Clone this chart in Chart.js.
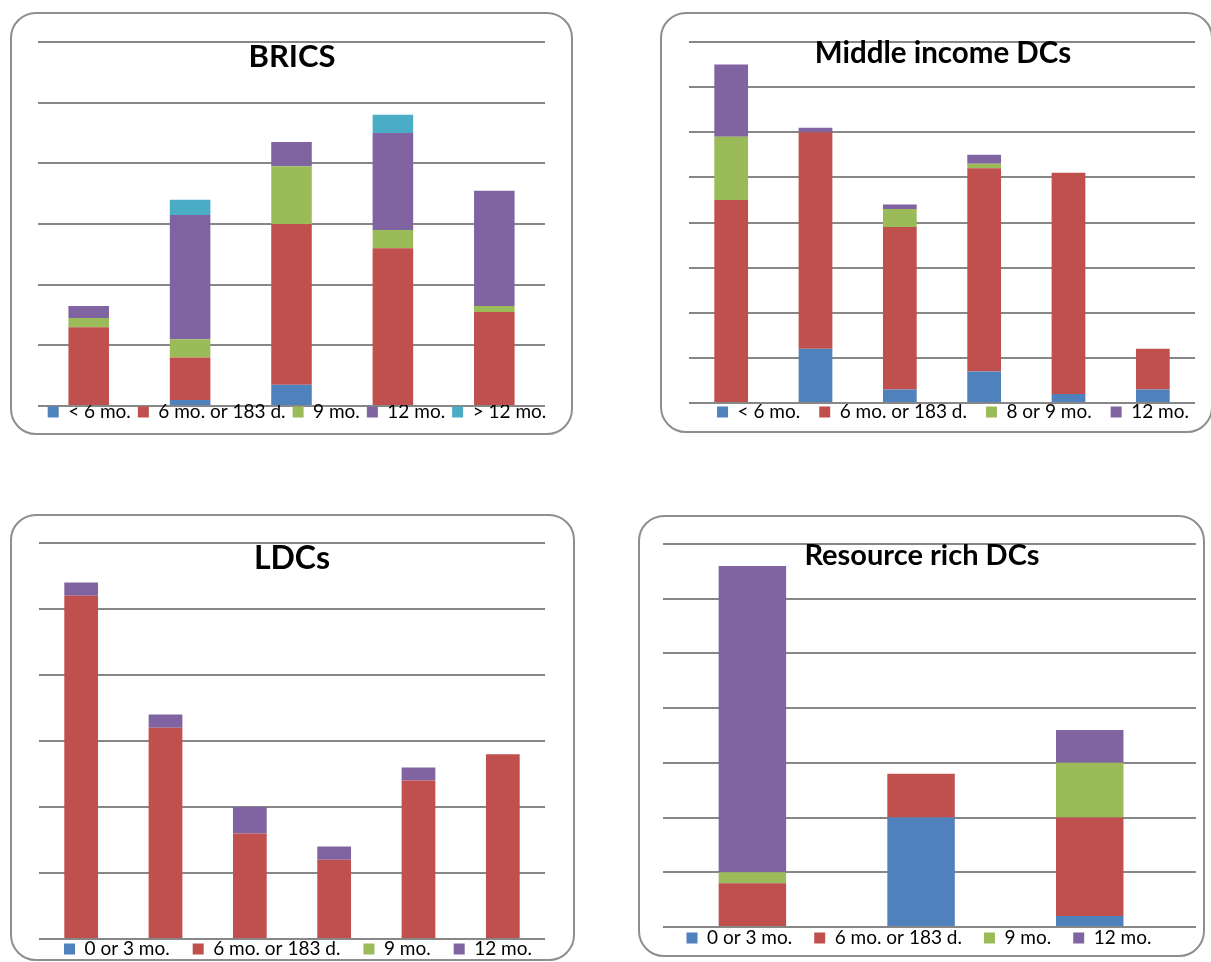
<!DOCTYPE html>
<html><head><meta charset="utf-8">
<script src="https://cdn.jsdelivr.net/npm/chart.js@4.4.1/dist/chart.umd.min.js"></script>
<style>
html,body{margin:0;padding:0;width:1211px;height:962px;overflow:hidden;background:#fff;}
.panel{position:absolute;box-sizing:border-box;border:2px solid #8e8e8e;border-radius:26px;background:#fff;}
canvas{position:absolute;}
</style></head><body>
<script>
// ---------------- data ----------------
const bricsCategories = ['1', '2', '3', '4', '5'];
const bricsSeries = ['< 6 mo.', '6 mo. or 183 d.', '9 mo.', '12 mo.', '> 12 mo.'];
const bricsLt6   = [0, 2, 7, 0, 0];
const bricsM6    = [26, 14, 53, 52, 31];
const bricsM9    = [3, 6, 19, 6, 2];
const bricsM12   = [4, 41, 8, 32, 38];
const bricsGt12  = [0, 5, 0, 6, 0];
const bricsTicks = {max: 120, step: 20};

const midCategories = ['1', '2', '3', '4', '5', '6'];
const midSeries = ['< 6 mo.', '6 mo. or 183 d.', '8 or 9 mo.', '12 mo.'];
const midLt6  = [0, 12, 3, 7, 2, 3];
const midM6   = [45, 48, 36, 45, 49, 9];
const midM89  = [14, 0, 4, 1, 0, 0];
const midM12  = [16, 1, 1, 2, 0, 0];
const midTicks = {max: 80, step: 10};

const ldcCategories = ['1', '2', '3', '4', '5', '6'];
const ldcSeries = ['0 or 3 mo.', '6 mo. or 183 d.', '9 mo.', '12 mo.'];
const ldcM03  = [0, 0, 0, 0, 0, 0];
const ldcM6   = [26, 16, 8, 6, 12, 14];
const ldcM9   = [0, 0, 0, 0, 0, 0];
const ldcM12  = [1, 1, 2, 1, 1, 0];
const ldcTicks = {max: 30, step: 5};

const rrCategories = ['1', '2', '3'];
const rrSeries = ['0 or 3 mo.', '6 mo. or 183 d.', '9 mo.', '12 mo.'];
const rrM03  = [0, 10, 1];
const rrM6   = [4, 4, 9];
const rrM9   = [1, 0, 5];
const rrM12  = [28, 0, 3];
const rrTicks = {max: 35, step: 5};

const palette = ['#4F81BD', '#C0504D', '#9BBB59', '#8064A2', '#4BACC6'];

// ---------------- layout ----------------
const panels = [
  {title: 'BRICS', categories: bricsCategories, series: bricsSeries,
   values: [bricsLt6, bricsM6, bricsM9, bricsM12, bricsGt12], ticks: bricsTicks,
   panel: {l: 10, t: 12, r: 573, b: 435}, chart: {l: 38, t: 42, r: 545, b: 406},
   xPad: {lo: 0.5, hi: 0.5},
   titleSize: 31, titleCx: 292, titleCy: 57, legendCx: 297, legendCy: 412, legendPad: 7},
  {title: 'Middle income DCs', categories: midCategories, series: midSeries,
   values: [midLt6, midM6, midM89, midM12], ticks: midTicks,
   panel: {l: 660, t: 12, r: 1213, b: 433}, chart: {l: 689, t: 42, r: 1195, b: 403},
   xPad: {lo: 0.5, hi: 0.5},
   titleSize: 29.5, titleCx: 943, titleCy: 53, legendCx: 953, legendCy: 412, legendPad: 19},
  {title: 'LDCs', categories: ldcCategories, series: ldcSeries,
   values: [ldcM03, ldcM6, ldcM9, ldcM12], ticks: ldcTicks,
   panel: {l: 10, t: 514, r: 575, b: 961}, chart: {l: 39, t: 543, r: 545, b: 939},
   xPad: {lo: 0.5, hi: 0.5},
   titleSize: 32, titleCx: 292, titleCy: 559, legendCx: 298, legendCy: 949, legendPad: 23},
  {title: 'Resource rich DCs', categories: rrCategories, series: rrSeries,
   values: [rrM03, rrM6, rrM9, rrM12], ticks: rrTicks,
   panel: {l: 638, t: 515, r: 1205, b: 957}, chart: {l: 663, t: 544, r: 1196, b: 927},
   xPad: {lo: 0.53, hi: 0.63},
   titleSize: 29, titleCx: 922, titleCy: 556, legendCx: 919, legendCy: 938, legendPad: 22}
];

const LEGEND_FS = 19;

function build(p) {
  const box = document.createElement('div');
  box.className = 'panel';
  box.style.left = p.panel.l + 'px';
  box.style.top = p.panel.t + 'px';
  box.style.width = (p.panel.r - p.panel.l) + 'px';
  box.style.height = (p.panel.b - p.panel.t) + 'px';
  document.body.appendChild(box);

  const W = p.panel.r - p.panel.l;
  const pad = p.legendPad;
  const legendH = LEGEND_FS + pad + 10;
  const H = Math.ceil(p.chart.b - p.panel.t + legendH);
  const cv = document.createElement('canvas');
  cv.width = W; cv.height = H;
  cv.style.left = p.panel.l + 'px';
  cv.style.top = p.panel.t + 'px';
  cv.style.width = W + 'px';
  cv.style.height = H + 'px';
  document.body.appendChild(cv);

  const leftReserve = p.chart.l - p.panel.l;
  const rightReserve = p.panel.r - p.chart.r;

  const place = {
    id: 'place',
    afterLayout(chart) {
      const lg = chart.legend;
      if (lg) {
        const lw = lg.right - lg.left, lh = lg.bottom - lg.top;
        const cx = p.legendCx - p.panel.l, cy = p.legendCy - p.panel.t;
        lg.left = cx - lw / 2; lg.right = lg.left + lw;
        lg.top = cy - pad - LEGEND_FS / 2; lg.bottom = lg.top + lh;
      }
      const tb = chart.titleBlock;
      if (tb) {
        const tw = tb.right - tb.left;
        const cx = p.titleCx - p.panel.l, cy = p.titleCy - p.panel.t;
        tb.left = cx - tw / 2; tb.right = tb.left + tw;
        tb.top = cy - p.titleSize / 2; tb.bottom = tb.top;
      }
    }
  };

  new Chart(cv, {
    type: 'bar',
    data: {
      datasets: p.series.map((name, i) => ({
        label: name,
        data: p.values[i].map((v, k) => ({x: k, y: v, category: p.categories[k]})),
        backgroundColor: palette[i],
        borderWidth: 0,
        barPercentage: 0.4,
        categoryPercentage: 1
      }))
    },
    options: {
      responsive: false,
      animation: false,
      devicePixelRatio: 1,
      layout: {padding: {left: 0, right: 0, top: p.chart.t - p.panel.t, bottom: 0}},
      scales: {
        x: {type: 'linear', stacked: true, display: false,
            min: -p.xPad.lo, max: p.categories.length - 1 + p.xPad.hi,
            afterBuildTicks: (s) => { s.ticks = []; }},
        y: {stacked: true, min: 0, max: p.ticks.max,
            ticks: {stepSize: p.ticks.step, display: false},
            grid: {color: '#878787', lineWidth: 2, drawTicks: false},
            border: {display: false},
            afterFit: (s) => { s.width = leftReserve; }},
        yR: {position: 'right', display: true, min: 0, max: 1,
             ticks: {display: false}, grid: {display: false, drawTicks: false},
             border: {display: false},
             afterFit: (s) => { s.width = rightReserve; }}
      },
      plugins: {
        legend: {position: 'bottom',
                 labels: {font: {family: 'Lato', size: LEGEND_FS}, color: '#000',
                          boxWidth: 11, boxHeight: 11, padding: pad}},
        title: {display: true, text: p.title, color: '#000',
                font: {family: 'Lato', weight: 'bold', size: p.titleSize, lineHeight: 1},
                padding: {top: 0, bottom: -p.titleSize}},
        tooltip: {enabled: false}
      }
    },
    plugins: [place]
  });
}

panels.forEach(build);
</script>
</body></html>
